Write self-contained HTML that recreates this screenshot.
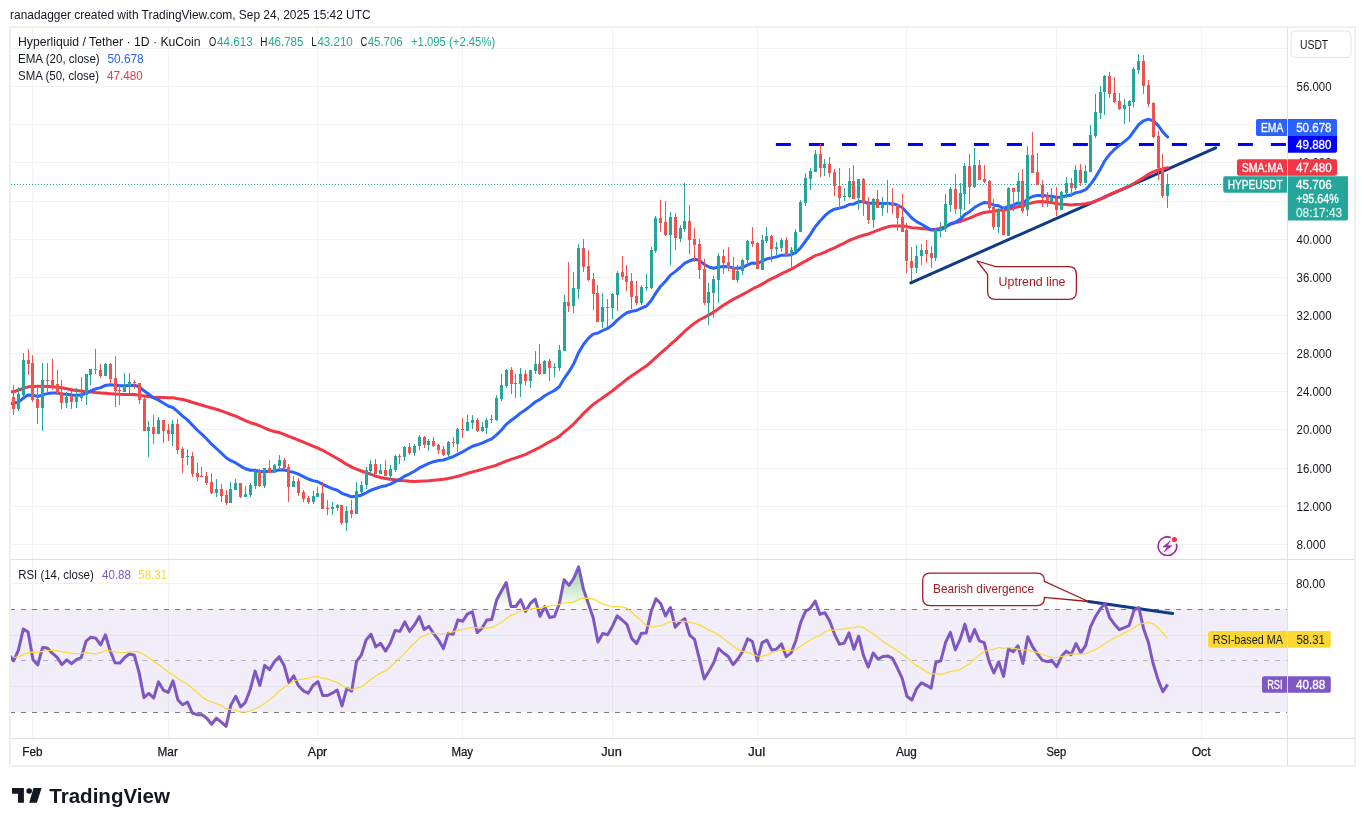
<!DOCTYPE html>
<html><head><meta charset="utf-8"><style>
svg text{}
html,body{margin:0;padding:0;background:#fff;width:1365px;height:826px;overflow:hidden;position:relative;font-family:"Liberation Sans", sans-serif;}
</style></head><body>
<svg width="1365" height="826" viewBox="0 0 1365 826" style="position:absolute;left:0;top:0;will-change:transform"><rect x="0" y="0" width="1365" height="826" fill="#fff"/><defs><clipPath id="cp1"><rect x="11" y="28" width="1276" height="531"/></clipPath><clipPath id="cp2"><rect x="11" y="560" width="1276" height="178"/></clipPath></defs><rect x="32" y="28" width="1" height="710" fill="#F1F3F2"/><rect x="168" y="28" width="1" height="710" fill="#F1F3F2"/><rect x="317" y="28" width="1" height="710" fill="#F1F3F2"/><rect x="462" y="28" width="1" height="710" fill="#F1F3F2"/><rect x="612" y="28" width="1" height="710" fill="#F1F3F2"/><rect x="757" y="28" width="1" height="710" fill="#F1F3F2"/><rect x="906" y="28" width="1" height="710" fill="#F1F3F2"/><rect x="1056" y="28" width="1" height="710" fill="#F1F3F2"/><rect x="1201" y="28" width="1" height="710" fill="#F1F3F2"/><rect x="11" y="48" width="1276" height="1" fill="#F1F3F2"/><rect x="11" y="86" width="1276" height="1" fill="#F1F3F2"/><rect x="11" y="124" width="1276" height="1" fill="#F1F3F2"/><rect x="11" y="162" width="1276" height="1" fill="#F1F3F2"/><rect x="11" y="201" width="1276" height="1" fill="#F1F3F2"/><rect x="11" y="239" width="1276" height="1" fill="#F1F3F2"/><rect x="11" y="277" width="1276" height="1" fill="#F1F3F2"/><rect x="11" y="315" width="1276" height="1" fill="#F1F3F2"/><rect x="11" y="353" width="1276" height="1" fill="#F1F3F2"/><rect x="11" y="391" width="1276" height="1" fill="#F1F3F2"/><rect x="11" y="429" width="1276" height="1" fill="#F1F3F2"/><rect x="11" y="468" width="1276" height="1" fill="#F1F3F2"/><rect x="11" y="506" width="1276" height="1" fill="#F1F3F2"/><rect x="11" y="544" width="1276" height="1" fill="#F1F3F2"/><rect x="11" y="583" width="1276" height="1" fill="#F1F3F2"/><rect x="11" y="635" width="1276" height="1" fill="#F1F3F2"/><rect x="11" y="686" width="1276" height="1" fill="#F1F3F2"/><rect x="11" y="609" width="1276" height="103" fill="#7E57C2" fill-opacity="0.1"/><line x1="10" x2="1287" y1="609.5" y2="609.5" stroke="#787B86" stroke-opacity="1" stroke-width="1" stroke-dasharray="5,6"/><line x1="10" x2="1287" y1="660.5" y2="660.5" stroke="#787B86" stroke-opacity="0.5" stroke-width="1" stroke-dasharray="5,6"/><line x1="10" x2="1287" y1="712.5" y2="712.5" stroke="#787B86" stroke-opacity="1" stroke-width="1" stroke-dasharray="5,6"/><line x1="775.9" x2="1287" y1="144.5" y2="144.5" stroke="#0000FF" stroke-width="3" stroke-dasharray="15,18"/><line x1="910.8" y1="282.9" x2="1215.7" y2="147.8" stroke="#0F3A85" stroke-width="3" stroke-linecap="round"/><path d="M10.0,391.8 L13.6,391.8 L18.5,390.0 L23.3,388.4 L28.1,386.8 L33.0,386.5 L37.8,386.3 L42.6,386.2 L47.4,386.5 L52.3,386.7 L57.1,387.2 L61.9,387.8 L66.8,388.7 L71.6,389.7 L76.4,390.4 L81.2,391.1 L86.1,391.7 L90.9,392.1 L95.7,392.6 L100.6,393.0 L105.4,393.3 L110.2,393.7 L115.0,394.0 L119.9,394.3 L124.7,394.4 L129.5,394.5 L134.4,394.6 L139.2,395.2 L144.0,395.9 L148.8,396.6 L153.7,397.4 L158.5,397.6 L163.3,397.6 L168.2,397.7 L173.0,397.8 L177.8,398.7 L182.6,399.5 L187.5,400.8 L192.3,402.3 L197.1,403.8 L202.0,405.3 L206.8,406.6 L211.6,408.0 L216.4,409.3 L221.3,410.9 L226.1,412.7 L230.9,414.5 L235.8,416.2 L240.6,418.4 L245.4,420.6 L250.3,422.7 L255.1,424.0 L259.9,425.8 L264.7,428.0 L269.6,430.1 L274.4,431.5 L279.2,432.5 L284.1,434.3 L288.9,436.4 L293.7,438.2 L298.5,440.2 L303.4,442.2 L308.2,444.2 L313.0,446.1 L317.9,448.1 L322.7,450.3 L327.5,453.0 L332.3,455.8 L337.2,458.5 L342.0,461.4 L346.8,464.4 L351.7,467.1 L356.5,469.1 L361.3,471.0 L366.1,472.7 L371.0,474.3 L375.8,476.1 L380.6,477.5 L385.5,478.4 L390.3,479.3 L395.1,479.7 L399.9,480.5 L404.8,480.8 L409.6,481.2 L414.4,481.6 L419.3,481.3 L424.1,481.1 L428.9,480.8 L433.7,480.2 L438.6,479.7 L443.4,479.2 L448.2,478.4 L453.1,477.4 L457.9,476.2 L462.7,474.9 L467.5,473.3 L472.4,471.9 L477.2,470.8 L482.0,469.4 L486.9,467.9 L491.7,466.6 L496.5,465.2 L501.3,463.2 L506.2,461.2 L511.0,459.4 L515.8,457.8 L520.7,456.1 L525.5,454.3 L530.3,452.0 L535.2,449.6 L540.0,447.3 L544.8,444.5 L549.6,441.8 L554.5,439.2 L559.3,436.4 L564.1,432.2 L569.0,428.2 L573.8,423.8 L578.6,418.7 L583.4,413.6 L588.3,408.9 L593.1,404.5 L597.9,401.1 L602.8,397.6 L607.6,394.3 L612.4,390.9 L617.2,386.9 L622.1,383.1 L626.9,379.2 L631.7,375.7 L636.6,372.6 L641.4,369.3 L646.2,366.1 L651.0,362.0 L655.9,357.4 L660.7,353.2 L665.5,349.0 L670.4,344.5 L675.2,340.3 L680.0,335.9 L684.8,331.2 L689.7,327.2 L694.5,323.2 L699.3,320.0 L704.2,317.5 L709.0,314.9 L713.8,312.1 L718.6,308.6 L723.5,305.3 L728.3,302.2 L733.1,299.4 L738.0,296.9 L742.8,294.4 L747.6,291.8 L752.4,289.0 L757.3,286.7 L762.1,284.1 L766.9,281.2 L771.8,278.7 L776.6,276.4 L781.4,273.7 L786.2,271.6 L791.1,269.2 L795.9,266.5 L800.7,263.6 L805.6,261.1 L810.4,258.4 L815.2,255.7 L820.0,254.1 L824.9,252.1 L829.7,249.9 L834.5,247.8 L839.4,245.3 L844.2,243.1 L849.0,240.5 L853.9,238.6 L858.7,236.7 L863.5,235.3 L868.3,234.0 L873.2,232.1 L878.0,230.2 L882.8,228.5 L887.7,226.8 L892.5,225.9 L897.3,225.9 L902.1,226.1 L907.0,226.6 L911.8,227.7 L916.6,228.0 L921.5,228.5 L926.3,229.1 L931.1,229.5 L935.9,229.2 L940.8,228.3 L945.6,226.4 L950.4,224.3 L955.3,222.9 L960.1,221.6 L964.9,219.7 L969.7,218.1 L974.6,215.8 L979.4,214.0 L984.2,212.4 L989.1,211.7 L993.9,211.4 L998.7,210.2 L1003.5,210.1 L1008.4,209.2 L1013.2,208.0 L1018.0,206.7 L1022.9,206.1 L1027.7,204.1 L1032.5,202.6 L1037.3,201.7 L1042.2,201.6 L1047.0,202.0 L1051.8,202.6 L1056.7,203.7 L1061.5,204.2 L1066.3,204.5 L1071.1,204.9 L1076.0,204.5 L1080.8,204.2 L1085.6,203.7 L1090.5,202.8 L1095.3,201.1 L1100.1,199.3 L1104.9,196.8 L1109.8,194.3 L1114.6,192.3 L1119.4,190.4 L1124.3,188.4 L1129.1,186.3 L1133.9,183.6 L1138.8,180.5 L1143.6,177.6 L1148.4,174.4 L1153.2,171.8 L1158.1,170.0 L1162.9,168.9 L1167.7,167.6" fill="none" stroke="#F23645" stroke-width="3" stroke-linejoin="round" stroke-linecap="round" clip-path="url(#cp1)"/><path d="M10.0,404.0 L13.6,403.0 L18.5,402.2 L23.3,398.1 L28.1,394.9 L33.0,395.3 L37.8,396.5 L42.6,394.9 L47.4,393.6 L52.3,393.1 L57.1,393.1 L61.9,394.0 L66.8,394.3 L71.6,395.0 L76.4,395.2 L81.2,395.1 L86.1,393.1 L90.9,390.9 L95.7,388.9 L100.6,387.6 L105.4,385.4 L110.2,384.7 L115.0,385.3 L119.9,385.8 L124.7,385.8 L129.5,385.5 L134.4,385.3 L139.2,386.7 L144.0,390.8 L148.8,394.3 L153.7,398.0 L158.5,400.1 L163.3,403.0 L168.2,406.0 L173.0,407.7 L177.8,411.7 L182.6,416.1 L187.5,419.9 L192.3,425.0 L197.1,430.0 L202.0,434.4 L206.8,439.0 L211.6,444.2 L216.4,448.5 L221.3,453.0 L226.1,457.7 L230.9,460.7 L235.8,462.9 L240.6,466.1 L245.4,468.8 L250.3,470.3 L255.1,470.3 L259.9,471.8 L264.7,471.5 L269.6,471.6 L274.4,471.0 L279.2,469.9 L284.1,469.8 L288.9,471.4 L293.7,472.3 L298.5,474.2 L303.4,476.6 L308.2,479.0 L313.0,480.6 L317.9,481.8 L322.7,484.4 L327.5,486.7 L332.3,488.6 L337.2,490.2 L342.0,493.3 L346.8,495.0 L351.7,496.8 L356.5,496.2 L361.3,495.2 L366.1,492.8 L371.0,490.1 L375.8,488.5 L380.6,486.8 L385.5,485.8 L390.3,484.2 L395.1,481.6 L399.9,479.2 L404.8,476.1 L409.6,473.8 L414.4,471.2 L419.3,467.9 L424.1,465.7 L428.9,463.3 L433.7,461.7 L438.6,460.5 L443.4,460.0 L448.2,458.3 L453.1,456.8 L457.9,454.1 L462.7,451.8 L467.5,449.0 L472.4,446.2 L477.2,444.8 L482.0,443.1 L486.9,440.9 L491.7,438.8 L496.5,434.9 L501.3,430.2 L506.2,424.4 L511.0,420.5 L515.8,417.0 L520.7,412.9 L525.5,409.8 L530.3,406.1 L535.2,402.0 L540.0,399.4 L544.8,395.7 L549.6,393.0 L554.5,390.5 L559.3,386.7 L564.1,378.6 L569.0,371.7 L573.8,363.7 L578.6,352.7 L583.4,344.5 L588.3,338.4 L593.1,334.1 L597.9,333.0 L602.8,330.5 L607.6,328.4 L612.4,325.1 L617.2,320.1 L622.1,316.1 L626.9,312.8 L631.7,311.3 L636.6,310.5 L641.4,308.2 L646.2,306.2 L651.0,300.8 L655.9,292.9 L660.7,286.2 L665.5,281.3 L670.4,275.1 L675.2,271.6 L680.0,267.5 L684.8,263.1 L689.7,260.8 L694.5,259.3 L699.3,260.3 L704.2,264.4 L709.0,267.0 L713.8,268.2 L718.6,267.0 L723.5,266.6 L728.3,266.7 L733.1,267.9 L738.0,268.2 L742.8,267.4 L747.6,264.9 L752.4,262.9 L757.3,263.5 L762.1,261.2 L766.9,258.8 L771.8,257.9 L776.6,256.8 L781.4,255.2 L786.2,255.2 L791.1,254.7 L795.9,252.5 L800.7,247.7 L805.6,241.0 L810.4,234.4 L815.2,226.7 L820.0,221.1 L824.9,215.7 L829.7,211.6 L834.5,209.2 L839.4,208.1 L844.2,206.9 L849.0,204.5 L853.9,203.9 L858.7,201.6 L863.5,201.7 L868.3,203.5 L873.2,203.0 L878.0,203.5 L882.8,203.5 L887.7,203.5 L892.5,203.7 L897.3,205.0 L902.1,207.5 L907.0,212.7 L911.8,218.0 L916.6,221.6 L921.5,224.3 L926.3,227.1 L931.1,230.0 L935.9,230.0 L940.8,229.7 L945.6,227.3 L950.4,223.6 L955.3,222.2 L960.1,219.4 L964.9,214.4 L969.7,211.7 L974.6,207.3 L979.4,204.7 L984.2,202.5 L989.1,203.0 L993.9,205.2 L998.7,205.7 L1003.5,208.5 L1008.4,206.5 L1013.2,205.2 L1018.0,202.9 L1022.9,203.6 L1027.7,199.0 L1032.5,196.5 L1037.3,195.4 L1042.2,195.6 L1047.0,196.1 L1051.8,196.3 L1056.7,197.5 L1061.5,197.1 L1066.3,195.7 L1071.1,195.0 L1076.0,192.6 L1080.8,191.7 L1085.6,189.7 L1090.5,184.5 L1095.3,177.6 L1100.1,169.5 L1104.9,160.6 L1109.8,154.2 L1114.6,149.3 L1119.4,145.4 L1124.3,141.6 L1129.1,137.7 L1133.9,131.1 L1138.8,124.5 L1143.6,120.8 L1148.4,119.2 L1153.2,120.8 L1158.1,125.3 L1162.9,132.1 L1167.7,137.0" fill="none" stroke="#2962FF" stroke-width="3" stroke-linejoin="round" stroke-linecap="round" clip-path="url(#cp1)"/><rect x="13" y="385" width="1" height="30" fill="#EF5350"/><rect x="12" y="397" width="3" height="12" fill="#EF5350"/><rect x="18" y="387" width="1" height="24" fill="#26A69A"/><rect x="17" y="394" width="3" height="15" fill="#26A69A"/><rect x="23" y="353" width="1" height="44" fill="#26A69A"/><rect x="22" y="360" width="3" height="35" fill="#26A69A"/><rect x="28" y="349" width="1" height="26" fill="#EF5350"/><rect x="27" y="360" width="3" height="4" fill="#EF5350"/><rect x="32" y="355" width="1" height="47" fill="#EF5350"/><rect x="31" y="363" width="3" height="37" fill="#EF5350"/><rect x="37" y="388" width="1" height="36" fill="#EF5350"/><rect x="36" y="399" width="3" height="9" fill="#EF5350"/><rect x="42" y="363" width="1" height="68" fill="#26A69A"/><rect x="41" y="380" width="3" height="28" fill="#26A69A"/><rect x="47" y="363" width="1" height="30" fill="#EF5350"/><rect x="46" y="380" width="3" height="1" fill="#EF5350"/><rect x="52" y="359" width="1" height="31" fill="#EF5350"/><rect x="51" y="380" width="3" height="8" fill="#EF5350"/><rect x="57" y="370" width="1" height="25" fill="#EF5350"/><rect x="56" y="384" width="3" height="9" fill="#EF5350"/><rect x="61" y="380" width="1" height="29" fill="#EF5350"/><rect x="60" y="392" width="3" height="11" fill="#EF5350"/><rect x="66" y="392" width="1" height="16" fill="#26A69A"/><rect x="65" y="397" width="3" height="6" fill="#26A69A"/><rect x="71" y="391" width="1" height="18" fill="#EF5350"/><rect x="70" y="396" width="3" height="6" fill="#EF5350"/><rect x="76" y="388" width="1" height="20" fill="#26A69A"/><rect x="75" y="397" width="3" height="5" fill="#26A69A"/><rect x="81" y="377" width="1" height="24" fill="#26A69A"/><rect x="80" y="395" width="3" height="3" fill="#26A69A"/><rect x="86" y="374" width="1" height="31" fill="#26A69A"/><rect x="85" y="374" width="3" height="21" fill="#26A69A"/><rect x="90" y="369" width="1" height="16" fill="#26A69A"/><rect x="89" y="369" width="3" height="6" fill="#26A69A"/><rect x="95" y="349" width="1" height="25" fill="#EF5350"/><rect x="94" y="369" width="3" height="1" fill="#EF5350"/><rect x="100" y="364" width="1" height="14" fill="#EF5350"/><rect x="99" y="370" width="3" height="6" fill="#EF5350"/><rect x="105" y="363" width="1" height="13" fill="#26A69A"/><rect x="104" y="364" width="3" height="12" fill="#26A69A"/><rect x="110" y="363" width="1" height="20" fill="#EF5350"/><rect x="109" y="364" width="3" height="15" fill="#EF5350"/><rect x="115" y="356" width="1" height="51" fill="#EF5350"/><rect x="114" y="378" width="3" height="13" fill="#EF5350"/><rect x="119" y="386" width="1" height="19" fill="#EF5350"/><rect x="118" y="390" width="3" height="1" fill="#EF5350"/><rect x="124" y="373" width="1" height="19" fill="#26A69A"/><rect x="123" y="386" width="3" height="6" fill="#26A69A"/><rect x="129" y="373" width="1" height="21" fill="#26A69A"/><rect x="128" y="382" width="3" height="4" fill="#26A69A"/><rect x="134" y="380" width="1" height="9" fill="#EF5350"/><rect x="133" y="382" width="3" height="1" fill="#EF5350"/><rect x="139" y="383" width="1" height="21" fill="#EF5350"/><rect x="138" y="383" width="3" height="17" fill="#EF5350"/><rect x="144" y="397" width="1" height="34" fill="#EF5350"/><rect x="143" y="399" width="3" height="32" fill="#EF5350"/><rect x="148" y="421" width="1" height="36" fill="#26A69A"/><rect x="147" y="427" width="3" height="4" fill="#26A69A"/><rect x="153" y="415" width="1" height="29" fill="#EF5350"/><rect x="152" y="427" width="3" height="7" fill="#EF5350"/><rect x="158" y="417" width="1" height="17" fill="#26A69A"/><rect x="157" y="420" width="3" height="14" fill="#26A69A"/><rect x="163" y="420" width="1" height="23" fill="#EF5350"/><rect x="162" y="420" width="3" height="11" fill="#EF5350"/><rect x="168" y="424" width="1" height="17" fill="#EF5350"/><rect x="167" y="430" width="3" height="4" fill="#EF5350"/><rect x="172" y="420" width="1" height="26" fill="#26A69A"/><rect x="171" y="424" width="3" height="10" fill="#26A69A"/><rect x="177" y="419" width="1" height="35" fill="#EF5350"/><rect x="176" y="424" width="3" height="26" fill="#EF5350"/><rect x="182" y="447" width="1" height="26" fill="#EF5350"/><rect x="181" y="449" width="3" height="9" fill="#EF5350"/><rect x="187" y="449" width="1" height="16" fill="#26A69A"/><rect x="186" y="456" width="3" height="1" fill="#26A69A"/><rect x="192" y="452" width="1" height="25" fill="#EF5350"/><rect x="191" y="456" width="3" height="18" fill="#EF5350"/><rect x="197" y="463" width="1" height="18" fill="#EF5350"/><rect x="196" y="473" width="3" height="4" fill="#EF5350"/><rect x="201" y="467" width="1" height="10" fill="#EF5350"/><rect x="200" y="476" width="3" height="1" fill="#EF5350"/><rect x="206" y="472" width="1" height="13" fill="#EF5350"/><rect x="205" y="476" width="3" height="7" fill="#EF5350"/><rect x="211" y="473" width="1" height="21" fill="#EF5350"/><rect x="210" y="482" width="3" height="11" fill="#EF5350"/><rect x="216" y="479" width="1" height="18" fill="#26A69A"/><rect x="215" y="489" width="3" height="4" fill="#26A69A"/><rect x="221" y="484" width="1" height="18" fill="#EF5350"/><rect x="220" y="489" width="3" height="7" fill="#EF5350"/><rect x="226" y="490" width="1" height="15" fill="#EF5350"/><rect x="225" y="495" width="3" height="8" fill="#EF5350"/><rect x="230" y="482" width="1" height="21" fill="#26A69A"/><rect x="229" y="489" width="3" height="14" fill="#26A69A"/><rect x="235" y="479" width="1" height="11" fill="#26A69A"/><rect x="234" y="483" width="3" height="7" fill="#26A69A"/><rect x="240" y="483" width="1" height="15" fill="#EF5350"/><rect x="239" y="483" width="3" height="14" fill="#EF5350"/><rect x="245" y="486" width="1" height="11" fill="#26A69A"/><rect x="244" y="494" width="3" height="3" fill="#26A69A"/><rect x="250" y="483" width="1" height="14" fill="#26A69A"/><rect x="249" y="485" width="3" height="10" fill="#26A69A"/><rect x="255" y="470" width="1" height="19" fill="#26A69A"/><rect x="254" y="471" width="3" height="15" fill="#26A69A"/><rect x="259" y="469" width="1" height="18" fill="#EF5350"/><rect x="258" y="471" width="3" height="15" fill="#EF5350"/><rect x="264" y="468" width="1" height="20" fill="#26A69A"/><rect x="263" y="468" width="3" height="18" fill="#26A69A"/><rect x="269" y="460" width="1" height="13" fill="#EF5350"/><rect x="268" y="468" width="3" height="5" fill="#EF5350"/><rect x="274" y="464" width="1" height="9" fill="#26A69A"/><rect x="273" y="465" width="3" height="8" fill="#26A69A"/><rect x="279" y="455" width="1" height="15" fill="#26A69A"/><rect x="278" y="460" width="3" height="6" fill="#26A69A"/><rect x="284" y="458" width="1" height="11" fill="#EF5350"/><rect x="283" y="460" width="3" height="8" fill="#EF5350"/><rect x="288" y="464" width="1" height="38" fill="#EF5350"/><rect x="287" y="467" width="3" height="20" fill="#EF5350"/><rect x="293" y="476" width="1" height="11" fill="#26A69A"/><rect x="292" y="481" width="3" height="6" fill="#26A69A"/><rect x="298" y="478" width="1" height="18" fill="#EF5350"/><rect x="297" y="481" width="3" height="12" fill="#EF5350"/><rect x="303" y="490" width="1" height="12" fill="#EF5350"/><rect x="302" y="492" width="3" height="7" fill="#EF5350"/><rect x="308" y="496" width="1" height="8" fill="#EF5350"/><rect x="307" y="498" width="3" height="4" fill="#EF5350"/><rect x="313" y="491" width="1" height="13" fill="#26A69A"/><rect x="312" y="496" width="3" height="6" fill="#26A69A"/><rect x="317" y="487" width="1" height="10" fill="#26A69A"/><rect x="316" y="493" width="3" height="4" fill="#26A69A"/><rect x="322" y="482" width="1" height="27" fill="#EF5350"/><rect x="321" y="493" width="3" height="16" fill="#EF5350"/><rect x="327" y="500" width="1" height="15" fill="#EF5350"/><rect x="326" y="508" width="3" height="1" fill="#EF5350"/><rect x="332" y="502" width="1" height="13" fill="#26A69A"/><rect x="331" y="507" width="3" height="2" fill="#26A69A"/><rect x="337" y="504" width="1" height="7" fill="#26A69A"/><rect x="336" y="505" width="3" height="3" fill="#26A69A"/><rect x="341" y="505" width="1" height="20" fill="#EF5350"/><rect x="340" y="505" width="3" height="18" fill="#EF5350"/><rect x="346" y="506" width="1" height="25" fill="#26A69A"/><rect x="345" y="511" width="3" height="12" fill="#26A69A"/><rect x="351" y="500" width="1" height="18" fill="#EF5350"/><rect x="350" y="510" width="3" height="4" fill="#EF5350"/><rect x="356" y="482" width="1" height="32" fill="#26A69A"/><rect x="355" y="491" width="3" height="23" fill="#26A69A"/><rect x="361" y="481" width="1" height="13" fill="#26A69A"/><rect x="360" y="485" width="3" height="7" fill="#26A69A"/><rect x="366" y="467" width="1" height="22" fill="#26A69A"/><rect x="365" y="470" width="3" height="15" fill="#26A69A"/><rect x="370" y="460" width="1" height="16" fill="#26A69A"/><rect x="369" y="464" width="3" height="7" fill="#26A69A"/><rect x="375" y="459" width="1" height="15" fill="#EF5350"/><rect x="374" y="464" width="3" height="10" fill="#EF5350"/><rect x="380" y="464" width="1" height="10" fill="#26A69A"/><rect x="379" y="470" width="3" height="4" fill="#26A69A"/><rect x="385" y="460" width="1" height="16" fill="#EF5350"/><rect x="384" y="470" width="3" height="6" fill="#EF5350"/><rect x="390" y="465" width="1" height="15" fill="#26A69A"/><rect x="389" y="469" width="3" height="7" fill="#26A69A"/><rect x="395" y="455" width="1" height="17" fill="#26A69A"/><rect x="394" y="456" width="3" height="14" fill="#26A69A"/><rect x="399" y="454" width="1" height="10" fill="#EF5350"/><rect x="398" y="456" width="3" height="1" fill="#EF5350"/><rect x="404" y="446" width="1" height="15" fill="#26A69A"/><rect x="403" y="447" width="3" height="10" fill="#26A69A"/><rect x="409" y="443" width="1" height="12" fill="#EF5350"/><rect x="408" y="447" width="3" height="6" fill="#EF5350"/><rect x="414" y="444" width="1" height="12" fill="#26A69A"/><rect x="413" y="446" width="3" height="7" fill="#26A69A"/><rect x="419" y="435" width="1" height="15" fill="#26A69A"/><rect x="418" y="437" width="3" height="9" fill="#26A69A"/><rect x="424" y="436" width="1" height="12" fill="#EF5350"/><rect x="423" y="437" width="3" height="8" fill="#EF5350"/><rect x="428" y="439" width="1" height="12" fill="#26A69A"/><rect x="427" y="441" width="3" height="4" fill="#26A69A"/><rect x="433" y="437" width="1" height="10" fill="#EF5350"/><rect x="432" y="441" width="3" height="5" fill="#EF5350"/><rect x="438" y="444" width="1" height="10" fill="#EF5350"/><rect x="437" y="445" width="3" height="5" fill="#EF5350"/><rect x="443" y="446" width="1" height="10" fill="#EF5350"/><rect x="442" y="449" width="3" height="6" fill="#EF5350"/><rect x="448" y="441" width="1" height="18" fill="#26A69A"/><rect x="447" y="442" width="3" height="13" fill="#26A69A"/><rect x="453" y="437" width="1" height="10" fill="#EF5350"/><rect x="452" y="442" width="3" height="1" fill="#EF5350"/><rect x="457" y="428" width="1" height="24" fill="#26A69A"/><rect x="456" y="429" width="3" height="15" fill="#26A69A"/><rect x="462" y="418" width="1" height="20" fill="#EF5350"/><rect x="461" y="429" width="3" height="1" fill="#EF5350"/><rect x="467" y="415" width="1" height="16" fill="#26A69A"/><rect x="466" y="422" width="3" height="9" fill="#26A69A"/><rect x="472" y="415" width="1" height="14" fill="#26A69A"/><rect x="471" y="420" width="3" height="3" fill="#26A69A"/><rect x="477" y="418" width="1" height="14" fill="#EF5350"/><rect x="476" y="420" width="3" height="11" fill="#EF5350"/><rect x="482" y="422" width="1" height="10" fill="#26A69A"/><rect x="481" y="427" width="3" height="4" fill="#26A69A"/><rect x="486" y="418" width="1" height="16" fill="#26A69A"/><rect x="485" y="420" width="3" height="8" fill="#26A69A"/><rect x="491" y="415" width="1" height="8" fill="#26A69A"/><rect x="490" y="419" width="3" height="1" fill="#26A69A"/><rect x="496" y="395" width="1" height="26" fill="#26A69A"/><rect x="495" y="398" width="3" height="22" fill="#26A69A"/><rect x="501" y="374" width="1" height="27" fill="#26A69A"/><rect x="500" y="385" width="3" height="14" fill="#26A69A"/><rect x="506" y="369" width="1" height="19" fill="#26A69A"/><rect x="505" y="370" width="3" height="16" fill="#26A69A"/><rect x="511" y="367" width="1" height="27" fill="#EF5350"/><rect x="510" y="370" width="3" height="14" fill="#EF5350"/><rect x="515" y="374" width="1" height="24" fill="#EF5350"/><rect x="514" y="383" width="3" height="1" fill="#EF5350"/><rect x="520" y="368" width="1" height="29" fill="#26A69A"/><rect x="519" y="374" width="3" height="10" fill="#26A69A"/><rect x="525" y="370" width="1" height="15" fill="#EF5350"/><rect x="524" y="374" width="3" height="7" fill="#EF5350"/><rect x="530" y="370" width="1" height="18" fill="#26A69A"/><rect x="529" y="370" width="3" height="11" fill="#26A69A"/><rect x="535" y="351" width="1" height="23" fill="#26A69A"/><rect x="534" y="364" width="3" height="7" fill="#26A69A"/><rect x="539" y="344" width="1" height="31" fill="#EF5350"/><rect x="538" y="364" width="3" height="10" fill="#EF5350"/><rect x="544" y="360" width="1" height="14" fill="#26A69A"/><rect x="543" y="361" width="3" height="13" fill="#26A69A"/><rect x="549" y="359" width="1" height="22" fill="#EF5350"/><rect x="548" y="361" width="3" height="7" fill="#EF5350"/><rect x="554" y="363" width="1" height="14" fill="#26A69A"/><rect x="553" y="367" width="3" height="1" fill="#26A69A"/><rect x="559" y="345" width="1" height="26" fill="#26A69A"/><rect x="558" y="350" width="3" height="18" fill="#26A69A"/><rect x="564" y="295" width="1" height="56" fill="#26A69A"/><rect x="563" y="302" width="3" height="49" fill="#26A69A"/><rect x="568" y="262" width="1" height="50" fill="#EF5350"/><rect x="567" y="302" width="3" height="4" fill="#EF5350"/><rect x="573" y="272" width="1" height="41" fill="#26A69A"/><rect x="572" y="288" width="3" height="18" fill="#26A69A"/><rect x="578" y="244" width="1" height="55" fill="#26A69A"/><rect x="577" y="248" width="3" height="41" fill="#26A69A"/><rect x="583" y="239" width="1" height="33" fill="#EF5350"/><rect x="582" y="248" width="3" height="19" fill="#EF5350"/><rect x="588" y="250" width="1" height="31" fill="#EF5350"/><rect x="587" y="266" width="3" height="14" fill="#EF5350"/><rect x="593" y="273" width="1" height="37" fill="#EF5350"/><rect x="592" y="279" width="3" height="15" fill="#EF5350"/><rect x="597" y="285" width="1" height="37" fill="#EF5350"/><rect x="596" y="293" width="3" height="29" fill="#EF5350"/><rect x="602" y="293" width="1" height="35" fill="#26A69A"/><rect x="601" y="307" width="3" height="15" fill="#26A69A"/><rect x="607" y="299" width="1" height="28" fill="#EF5350"/><rect x="606" y="307" width="3" height="1" fill="#EF5350"/><rect x="612" y="293" width="1" height="26" fill="#26A69A"/><rect x="611" y="294" width="3" height="14" fill="#26A69A"/><rect x="617" y="271" width="1" height="40" fill="#26A69A"/><rect x="616" y="273" width="3" height="22" fill="#26A69A"/><rect x="622" y="256" width="1" height="24" fill="#EF5350"/><rect x="621" y="272" width="3" height="5" fill="#EF5350"/><rect x="626" y="265" width="1" height="26" fill="#EF5350"/><rect x="625" y="276" width="3" height="6" fill="#EF5350"/><rect x="631" y="273" width="1" height="36" fill="#EF5350"/><rect x="630" y="281" width="3" height="16" fill="#EF5350"/><rect x="636" y="281" width="1" height="24" fill="#EF5350"/><rect x="635" y="296" width="3" height="7" fill="#EF5350"/><rect x="641" y="285" width="1" height="20" fill="#26A69A"/><rect x="640" y="287" width="3" height="16" fill="#26A69A"/><rect x="646" y="274" width="1" height="17" fill="#26A69A"/><rect x="645" y="287" width="3" height="1" fill="#26A69A"/><rect x="651" y="247" width="1" height="42" fill="#26A69A"/><rect x="650" y="250" width="3" height="38" fill="#26A69A"/><rect x="655" y="216" width="1" height="37" fill="#26A69A"/><rect x="654" y="218" width="3" height="33" fill="#26A69A"/><rect x="660" y="200" width="1" height="32" fill="#EF5350"/><rect x="659" y="218" width="3" height="5" fill="#EF5350"/><rect x="665" y="201" width="1" height="35" fill="#EF5350"/><rect x="664" y="222" width="3" height="13" fill="#EF5350"/><rect x="670" y="212" width="1" height="53" fill="#26A69A"/><rect x="669" y="217" width="3" height="18" fill="#26A69A"/><rect x="675" y="213" width="1" height="37" fill="#EF5350"/><rect x="674" y="217" width="3" height="21" fill="#EF5350"/><rect x="680" y="225" width="1" height="17" fill="#26A69A"/><rect x="679" y="228" width="3" height="11" fill="#26A69A"/><rect x="684" y="183" width="1" height="49" fill="#26A69A"/><rect x="683" y="221" width="3" height="8" fill="#26A69A"/><rect x="689" y="205" width="1" height="49" fill="#EF5350"/><rect x="688" y="221" width="3" height="19" fill="#EF5350"/><rect x="694" y="228" width="1" height="34" fill="#EF5350"/><rect x="693" y="239" width="3" height="6" fill="#EF5350"/><rect x="699" y="239" width="1" height="40" fill="#EF5350"/><rect x="698" y="244" width="3" height="26" fill="#EF5350"/><rect x="704" y="259" width="1" height="46" fill="#EF5350"/><rect x="703" y="269" width="3" height="34" fill="#EF5350"/><rect x="708" y="283" width="1" height="42" fill="#26A69A"/><rect x="707" y="292" width="3" height="11" fill="#26A69A"/><rect x="713" y="276" width="1" height="42" fill="#26A69A"/><rect x="712" y="279" width="3" height="14" fill="#26A69A"/><rect x="718" y="253" width="1" height="50" fill="#26A69A"/><rect x="717" y="256" width="3" height="24" fill="#26A69A"/><rect x="723" y="249" width="1" height="25" fill="#EF5350"/><rect x="722" y="256" width="3" height="7" fill="#EF5350"/><rect x="728" y="247" width="1" height="24" fill="#EF5350"/><rect x="727" y="262" width="3" height="6" fill="#EF5350"/><rect x="733" y="257" width="1" height="23" fill="#EF5350"/><rect x="732" y="267" width="3" height="13" fill="#EF5350"/><rect x="737" y="265" width="1" height="18" fill="#26A69A"/><rect x="736" y="271" width="3" height="9" fill="#26A69A"/><rect x="742" y="259" width="1" height="16" fill="#26A69A"/><rect x="741" y="260" width="3" height="11" fill="#26A69A"/><rect x="747" y="240" width="1" height="23" fill="#26A69A"/><rect x="746" y="241" width="3" height="19" fill="#26A69A"/><rect x="752" y="227" width="1" height="20" fill="#EF5350"/><rect x="751" y="241" width="3" height="3" fill="#EF5350"/><rect x="757" y="242" width="1" height="27" fill="#EF5350"/><rect x="756" y="243" width="3" height="26" fill="#EF5350"/><rect x="762" y="235" width="1" height="35" fill="#26A69A"/><rect x="761" y="240" width="3" height="30" fill="#26A69A"/><rect x="766" y="227" width="1" height="16" fill="#26A69A"/><rect x="765" y="236" width="3" height="5" fill="#26A69A"/><rect x="771" y="235" width="1" height="27" fill="#EF5350"/><rect x="770" y="236" width="3" height="13" fill="#EF5350"/><rect x="776" y="242" width="1" height="13" fill="#26A69A"/><rect x="775" y="247" width="3" height="2" fill="#26A69A"/><rect x="781" y="238" width="1" height="14" fill="#26A69A"/><rect x="780" y="240" width="3" height="8" fill="#26A69A"/><rect x="786" y="237" width="1" height="19" fill="#EF5350"/><rect x="785" y="240" width="3" height="15" fill="#EF5350"/><rect x="791" y="247" width="1" height="21" fill="#26A69A"/><rect x="790" y="250" width="3" height="3" fill="#26A69A"/><rect x="795" y="229" width="1" height="22" fill="#26A69A"/><rect x="794" y="232" width="3" height="19" fill="#26A69A"/><rect x="800" y="200" width="1" height="32" fill="#26A69A"/><rect x="799" y="202" width="3" height="30" fill="#26A69A"/><rect x="805" y="173" width="1" height="33" fill="#26A69A"/><rect x="804" y="178" width="3" height="25" fill="#26A69A"/><rect x="810" y="168" width="1" height="22" fill="#26A69A"/><rect x="809" y="171" width="3" height="8" fill="#26A69A"/><rect x="815" y="150" width="1" height="22" fill="#26A69A"/><rect x="814" y="154" width="3" height="18" fill="#26A69A"/><rect x="820" y="144" width="1" height="33" fill="#EF5350"/><rect x="819" y="154" width="3" height="14" fill="#EF5350"/><rect x="824" y="159" width="1" height="17" fill="#26A69A"/><rect x="823" y="164" width="3" height="4" fill="#26A69A"/><rect x="829" y="157" width="1" height="20" fill="#EF5350"/><rect x="828" y="164" width="3" height="9" fill="#EF5350"/><rect x="834" y="169" width="1" height="27" fill="#EF5350"/><rect x="833" y="172" width="3" height="14" fill="#EF5350"/><rect x="839" y="168" width="1" height="42" fill="#EF5350"/><rect x="838" y="186" width="3" height="12" fill="#EF5350"/><rect x="844" y="188" width="1" height="13" fill="#26A69A"/><rect x="843" y="196" width="3" height="1" fill="#26A69A"/><rect x="849" y="168" width="1" height="30" fill="#26A69A"/><rect x="848" y="181" width="3" height="16" fill="#26A69A"/><rect x="853" y="165" width="1" height="34" fill="#EF5350"/><rect x="852" y="181" width="3" height="18" fill="#EF5350"/><rect x="858" y="179" width="1" height="31" fill="#26A69A"/><rect x="857" y="179" width="3" height="19" fill="#26A69A"/><rect x="863" y="178" width="1" height="38" fill="#EF5350"/><rect x="862" y="179" width="3" height="24" fill="#EF5350"/><rect x="868" y="197" width="1" height="27" fill="#EF5350"/><rect x="867" y="203" width="3" height="17" fill="#EF5350"/><rect x="873" y="198" width="1" height="30" fill="#26A69A"/><rect x="872" y="199" width="3" height="21" fill="#26A69A"/><rect x="877" y="190" width="1" height="18" fill="#EF5350"/><rect x="876" y="199" width="3" height="9" fill="#EF5350"/><rect x="882" y="197" width="1" height="19" fill="#26A69A"/><rect x="881" y="204" width="3" height="4" fill="#26A69A"/><rect x="887" y="180" width="1" height="33" fill="#26A69A"/><rect x="886" y="203" width="3" height="2" fill="#26A69A"/><rect x="892" y="188" width="1" height="26" fill="#EF5350"/><rect x="891" y="203" width="3" height="3" fill="#EF5350"/><rect x="897" y="204" width="1" height="27" fill="#EF5350"/><rect x="896" y="205" width="3" height="13" fill="#EF5350"/><rect x="902" y="194" width="1" height="38" fill="#EF5350"/><rect x="901" y="217" width="3" height="15" fill="#EF5350"/><rect x="906" y="223" width="1" height="50" fill="#EF5350"/><rect x="905" y="230" width="3" height="31" fill="#EF5350"/><rect x="911" y="247" width="1" height="34" fill="#EF5350"/><rect x="910" y="261" width="3" height="7" fill="#EF5350"/><rect x="916" y="245" width="1" height="28" fill="#26A69A"/><rect x="915" y="256" width="3" height="12" fill="#26A69A"/><rect x="921" y="244" width="1" height="21" fill="#26A69A"/><rect x="920" y="250" width="3" height="6" fill="#26A69A"/><rect x="926" y="240" width="1" height="23" fill="#EF5350"/><rect x="925" y="250" width="3" height="4" fill="#EF5350"/><rect x="931" y="246" width="1" height="22" fill="#EF5350"/><rect x="930" y="253" width="3" height="5" fill="#EF5350"/><rect x="935" y="229" width="1" height="32" fill="#26A69A"/><rect x="934" y="230" width="3" height="28" fill="#26A69A"/><rect x="940" y="222" width="1" height="15" fill="#26A69A"/><rect x="939" y="228" width="3" height="2" fill="#26A69A"/><rect x="945" y="194" width="1" height="38" fill="#26A69A"/><rect x="944" y="204" width="3" height="25" fill="#26A69A"/><rect x="950" y="187" width="1" height="25" fill="#26A69A"/><rect x="949" y="189" width="3" height="16" fill="#26A69A"/><rect x="955" y="174" width="1" height="40" fill="#EF5350"/><rect x="954" y="189" width="3" height="20" fill="#EF5350"/><rect x="960" y="183" width="1" height="35" fill="#26A69A"/><rect x="959" y="193" width="3" height="16" fill="#26A69A"/><rect x="964" y="163" width="1" height="47" fill="#26A69A"/><rect x="963" y="166" width="3" height="28" fill="#26A69A"/><rect x="969" y="154" width="1" height="50" fill="#EF5350"/><rect x="968" y="166" width="3" height="21" fill="#EF5350"/><rect x="974" y="148" width="1" height="40" fill="#26A69A"/><rect x="973" y="165" width="3" height="22" fill="#26A69A"/><rect x="979" y="160" width="1" height="20" fill="#EF5350"/><rect x="978" y="165" width="3" height="15" fill="#EF5350"/><rect x="984" y="165" width="1" height="18" fill="#EF5350"/><rect x="983" y="179" width="3" height="3" fill="#EF5350"/><rect x="989" y="180" width="1" height="30" fill="#EF5350"/><rect x="988" y="181" width="3" height="27" fill="#EF5350"/><rect x="993" y="199" width="1" height="31" fill="#EF5350"/><rect x="992" y="207" width="3" height="20" fill="#EF5350"/><rect x="998" y="208" width="1" height="25" fill="#26A69A"/><rect x="997" y="210" width="3" height="17" fill="#26A69A"/><rect x="1003" y="206" width="1" height="29" fill="#EF5350"/><rect x="1002" y="209" width="3" height="26" fill="#EF5350"/><rect x="1008" y="187" width="1" height="49" fill="#26A69A"/><rect x="1007" y="188" width="3" height="48" fill="#26A69A"/><rect x="1013" y="188" width="1" height="23" fill="#EF5350"/><rect x="1012" y="188" width="3" height="4" fill="#EF5350"/><rect x="1018" y="173" width="1" height="33" fill="#26A69A"/><rect x="1017" y="181" width="3" height="11" fill="#26A69A"/><rect x="1022" y="169" width="1" height="44" fill="#EF5350"/><rect x="1021" y="181" width="3" height="30" fill="#EF5350"/><rect x="1027" y="146" width="1" height="70" fill="#26A69A"/><rect x="1026" y="155" width="3" height="55" fill="#26A69A"/><rect x="1032" y="132" width="1" height="41" fill="#EF5350"/><rect x="1031" y="155" width="3" height="18" fill="#EF5350"/><rect x="1037" y="153" width="1" height="32" fill="#EF5350"/><rect x="1036" y="172" width="3" height="13" fill="#EF5350"/><rect x="1042" y="180" width="1" height="27" fill="#EF5350"/><rect x="1041" y="185" width="3" height="13" fill="#EF5350"/><rect x="1047" y="192" width="1" height="15" fill="#EF5350"/><rect x="1046" y="196" width="3" height="5" fill="#EF5350"/><rect x="1051" y="188" width="1" height="13" fill="#26A69A"/><rect x="1050" y="198" width="3" height="3" fill="#26A69A"/><rect x="1056" y="187" width="1" height="29" fill="#EF5350"/><rect x="1055" y="199" width="3" height="11" fill="#EF5350"/><rect x="1061" y="191" width="1" height="19" fill="#26A69A"/><rect x="1060" y="192" width="3" height="18" fill="#26A69A"/><rect x="1066" y="177" width="1" height="21" fill="#26A69A"/><rect x="1065" y="183" width="3" height="10" fill="#26A69A"/><rect x="1071" y="178" width="1" height="19" fill="#EF5350"/><rect x="1070" y="183" width="3" height="5" fill="#EF5350"/><rect x="1075" y="165" width="1" height="25" fill="#26A69A"/><rect x="1074" y="170" width="3" height="18" fill="#26A69A"/><rect x="1080" y="164" width="1" height="22" fill="#EF5350"/><rect x="1079" y="170" width="3" height="13" fill="#EF5350"/><rect x="1085" y="165" width="1" height="18" fill="#26A69A"/><rect x="1084" y="171" width="3" height="12" fill="#26A69A"/><rect x="1090" y="125" width="1" height="47" fill="#26A69A"/><rect x="1089" y="135" width="3" height="37" fill="#26A69A"/><rect x="1095" y="94" width="1" height="44" fill="#26A69A"/><rect x="1094" y="112" width="3" height="24" fill="#26A69A"/><rect x="1100" y="86" width="1" height="33" fill="#26A69A"/><rect x="1099" y="92" width="3" height="21" fill="#26A69A"/><rect x="1104" y="75" width="1" height="40" fill="#26A69A"/><rect x="1103" y="76" width="3" height="16" fill="#26A69A"/><rect x="1109" y="72" width="1" height="26" fill="#EF5350"/><rect x="1108" y="76" width="3" height="18" fill="#EF5350"/><rect x="1114" y="77" width="1" height="26" fill="#EF5350"/><rect x="1113" y="93" width="3" height="9" fill="#EF5350"/><rect x="1119" y="93" width="1" height="17" fill="#EF5350"/><rect x="1118" y="101" width="3" height="8" fill="#EF5350"/><rect x="1124" y="99" width="1" height="25" fill="#26A69A"/><rect x="1123" y="105" width="3" height="4" fill="#26A69A"/><rect x="1129" y="100" width="1" height="22" fill="#26A69A"/><rect x="1128" y="101" width="3" height="5" fill="#26A69A"/><rect x="1133" y="67" width="1" height="40" fill="#26A69A"/><rect x="1132" y="69" width="3" height="33" fill="#26A69A"/><rect x="1138" y="54" width="1" height="20" fill="#26A69A"/><rect x="1137" y="61" width="3" height="9" fill="#26A69A"/><rect x="1143" y="55" width="1" height="39" fill="#EF5350"/><rect x="1142" y="61" width="3" height="25" fill="#EF5350"/><rect x="1148" y="80" width="1" height="27" fill="#EF5350"/><rect x="1147" y="85" width="3" height="19" fill="#EF5350"/><rect x="1153" y="102" width="1" height="36" fill="#EF5350"/><rect x="1152" y="103" width="3" height="34" fill="#EF5350"/><rect x="1158" y="131" width="1" height="49" fill="#EF5350"/><rect x="1157" y="136" width="3" height="32" fill="#EF5350"/><rect x="1162" y="154" width="1" height="44" fill="#EF5350"/><rect x="1161" y="168" width="3" height="28" fill="#EF5350"/><rect x="1167" y="174" width="1" height="34" fill="#26A69A"/><rect x="1166" y="184" width="3" height="12" fill="#26A69A"/><line x1="11" x2="1287" y1="184.5" y2="184.5" stroke="#26A69A" stroke-width="1" stroke-dasharray="1,2"/><line x1="1088.5" y1="601.5" x2="1172.6" y2="613.6" stroke="#0F3A85" stroke-width="3" stroke-linecap="round"/><defs><linearGradient id="gob" gradientUnits="userSpaceOnUse" x1="0" y1="531.9" x2="0" y2="609.3"><stop offset="0" stop-color="#4CAF50" stop-opacity="1"/><stop offset="1" stop-color="#4CAF50" stop-opacity="0"/></linearGradient><linearGradient id="gos" gradientUnits="userSpaceOnUse" x1="0" y1="712.5" x2="0" y2="789.9"><stop offset="0" stop-color="#FF5252" stop-opacity="0"/><stop offset="1" stop-color="#FF5252" stop-opacity="1"/></linearGradient><clipPath id="cob"><rect x="0" y="0" width="1287" height="609.3"/></clipPath><clipPath id="cos"><rect x="0" y="712.5" width="1287" height="200"/></clipPath></defs><path d="M10.0,656.0 L13.6,660.9 L18.5,649.9 L23.3,628.9 L28.1,632.0 L33.0,659.8 L37.8,664.9 L42.6,647.4 L47.4,648.1 L52.3,653.2 L57.1,657.4 L61.9,664.6 L66.8,659.9 L71.6,663.7 L76.4,659.7 L81.2,657.6 L86.1,641.1 L90.9,637.2 L95.7,638.1 L100.6,644.8 L105.4,634.8 L110.2,650.9 L115.0,662.7 L119.9,663.0 L124.7,657.5 L129.5,654.0 L134.4,655.3 L139.2,673.1 L144.0,697.6 L148.8,693.3 L153.7,698.0 L158.5,681.9 L163.3,690.1 L168.2,692.4 L173.0,680.8 L177.8,699.7 L182.6,704.7 L187.5,702.1 L192.3,713.0 L197.1,714.7 L202.0,714.7 L206.8,718.3 L211.6,724.2 L216.4,718.2 L221.3,722.2 L226.1,726.3 L230.9,704.9 L235.8,696.3 L240.6,706.9 L245.4,702.3 L250.3,689.2 L255.1,671.1 L259.9,685.4 L264.7,665.4 L269.6,669.6 L274.4,661.8 L279.2,656.7 L284.1,665.5 L288.9,682.5 L293.7,675.8 L298.5,685.8 L303.4,690.9 L308.2,693.2 L313.0,685.5 L317.9,681.6 L322.7,695.5 L327.5,695.5 L332.3,693.2 L337.2,690.1 L342.0,705.9 L346.8,688.4 L351.7,691.1 L356.5,661.6 L361.3,655.2 L366.1,640.0 L371.0,634.2 L375.8,646.9 L380.6,643.3 L385.5,651.1 L390.3,643.3 L395.1,630.5 L399.9,631.4 L404.8,621.9 L409.6,631.4 L414.4,624.9 L419.3,616.6 L424.1,629.5 L428.9,626.3 L433.7,633.7 L438.6,640.0 L443.4,648.6 L448.2,633.2 L453.1,634.2 L457.9,619.9 L462.7,621.2 L467.5,613.9 L472.4,611.9 L477.2,632.6 L482.0,628.3 L486.9,620.0 L491.7,619.6 L496.5,600.3 L501.3,591.3 L506.2,582.6 L511.0,606.5 L515.8,606.5 L520.7,599.7 L525.5,611.5 L530.3,603.5 L535.2,599.2 L540.0,616.4 L544.8,606.5 L549.6,617.4 L554.5,616.6 L559.3,603.7 L564.1,579.8 L569.0,585.3 L573.8,578.4 L578.6,566.9 L583.4,589.1 L588.3,603.5 L593.1,617.5 L597.9,642.0 L602.8,633.4 L607.6,634.7 L612.4,626.4 L617.2,615.9 L622.1,620.0 L626.9,624.3 L631.7,638.4 L636.6,643.6 L641.4,633.3 L646.2,633.0 L651.0,612.1 L655.9,598.7 L660.7,603.5 L665.5,615.9 L670.4,607.5 L675.2,627.2 L680.0,622.0 L684.8,618.7 L689.7,635.1 L694.5,639.3 L699.3,658.7 L704.2,678.9 L709.0,671.2 L713.8,662.5 L718.6,648.5 L723.5,653.0 L728.3,656.5 L733.1,664.8 L738.0,658.7 L742.8,651.1 L747.6,638.8 L752.4,641.5 L757.3,660.9 L762.1,642.6 L766.9,640.1 L771.8,650.1 L776.6,649.1 L781.4,643.9 L786.2,656.6 L791.1,652.9 L795.9,640.2 L800.7,622.3 L805.6,611.2 L810.4,608.2 L815.2,601.1 L820.0,614.4 L824.9,612.7 L829.7,621.0 L834.5,634.1 L839.4,644.2 L844.2,643.1 L849.0,632.9 L853.9,649.3 L858.7,636.1 L863.5,655.7 L868.3,667.1 L873.2,653.0 L878.0,659.2 L882.8,656.5 L887.7,655.9 L892.5,658.4 L897.3,667.8 L902.1,678.1 L907.0,696.3 L911.8,700.1 L916.6,688.6 L921.5,682.8 L926.3,685.3 L931.1,688.1 L935.9,662.3 L940.8,660.7 L945.6,642.4 L950.4,632.3 L955.3,649.9 L960.1,639.4 L964.9,624.1 L969.7,641.3 L974.6,629.5 L979.4,640.9 L984.2,642.6 L989.1,661.6 L993.9,673.0 L998.7,661.8 L1003.5,676.4 L1008.4,649.2 L1013.2,651.7 L1018.0,645.8 L1022.9,663.5 L1027.7,636.7 L1032.5,646.7 L1037.3,653.6 L1042.2,660.1 L1047.0,661.7 L1051.8,660.3 L1056.7,666.9 L1061.5,656.6 L1066.3,651.1 L1071.1,654.7 L1076.0,643.6 L1080.8,652.8 L1085.6,645.7 L1090.5,626.8 L1095.3,616.9 L1100.1,609.3 L1104.9,603.4 L1109.8,617.9 L1114.6,624.4 L1119.4,629.7 L1124.3,627.7 L1129.1,625.6 L1133.9,610.6 L1138.8,607.5 L1143.6,628.8 L1148.4,642.6 L1153.2,663.8 L1158.1,679.9 L1162.9,691.7 L1167.7,684.4 L1167.5,609.3 L10,609.3 Z" fill="url(#gob)" clip-path="url(#cob)"/><path d="M10.0,656.0 L13.6,660.9 L18.5,649.9 L23.3,628.9 L28.1,632.0 L33.0,659.8 L37.8,664.9 L42.6,647.4 L47.4,648.1 L52.3,653.2 L57.1,657.4 L61.9,664.6 L66.8,659.9 L71.6,663.7 L76.4,659.7 L81.2,657.6 L86.1,641.1 L90.9,637.2 L95.7,638.1 L100.6,644.8 L105.4,634.8 L110.2,650.9 L115.0,662.7 L119.9,663.0 L124.7,657.5 L129.5,654.0 L134.4,655.3 L139.2,673.1 L144.0,697.6 L148.8,693.3 L153.7,698.0 L158.5,681.9 L163.3,690.1 L168.2,692.4 L173.0,680.8 L177.8,699.7 L182.6,704.7 L187.5,702.1 L192.3,713.0 L197.1,714.7 L202.0,714.7 L206.8,718.3 L211.6,724.2 L216.4,718.2 L221.3,722.2 L226.1,726.3 L230.9,704.9 L235.8,696.3 L240.6,706.9 L245.4,702.3 L250.3,689.2 L255.1,671.1 L259.9,685.4 L264.7,665.4 L269.6,669.6 L274.4,661.8 L279.2,656.7 L284.1,665.5 L288.9,682.5 L293.7,675.8 L298.5,685.8 L303.4,690.9 L308.2,693.2 L313.0,685.5 L317.9,681.6 L322.7,695.5 L327.5,695.5 L332.3,693.2 L337.2,690.1 L342.0,705.9 L346.8,688.4 L351.7,691.1 L356.5,661.6 L361.3,655.2 L366.1,640.0 L371.0,634.2 L375.8,646.9 L380.6,643.3 L385.5,651.1 L390.3,643.3 L395.1,630.5 L399.9,631.4 L404.8,621.9 L409.6,631.4 L414.4,624.9 L419.3,616.6 L424.1,629.5 L428.9,626.3 L433.7,633.7 L438.6,640.0 L443.4,648.6 L448.2,633.2 L453.1,634.2 L457.9,619.9 L462.7,621.2 L467.5,613.9 L472.4,611.9 L477.2,632.6 L482.0,628.3 L486.9,620.0 L491.7,619.6 L496.5,600.3 L501.3,591.3 L506.2,582.6 L511.0,606.5 L515.8,606.5 L520.7,599.7 L525.5,611.5 L530.3,603.5 L535.2,599.2 L540.0,616.4 L544.8,606.5 L549.6,617.4 L554.5,616.6 L559.3,603.7 L564.1,579.8 L569.0,585.3 L573.8,578.4 L578.6,566.9 L583.4,589.1 L588.3,603.5 L593.1,617.5 L597.9,642.0 L602.8,633.4 L607.6,634.7 L612.4,626.4 L617.2,615.9 L622.1,620.0 L626.9,624.3 L631.7,638.4 L636.6,643.6 L641.4,633.3 L646.2,633.0 L651.0,612.1 L655.9,598.7 L660.7,603.5 L665.5,615.9 L670.4,607.5 L675.2,627.2 L680.0,622.0 L684.8,618.7 L689.7,635.1 L694.5,639.3 L699.3,658.7 L704.2,678.9 L709.0,671.2 L713.8,662.5 L718.6,648.5 L723.5,653.0 L728.3,656.5 L733.1,664.8 L738.0,658.7 L742.8,651.1 L747.6,638.8 L752.4,641.5 L757.3,660.9 L762.1,642.6 L766.9,640.1 L771.8,650.1 L776.6,649.1 L781.4,643.9 L786.2,656.6 L791.1,652.9 L795.9,640.2 L800.7,622.3 L805.6,611.2 L810.4,608.2 L815.2,601.1 L820.0,614.4 L824.9,612.7 L829.7,621.0 L834.5,634.1 L839.4,644.2 L844.2,643.1 L849.0,632.9 L853.9,649.3 L858.7,636.1 L863.5,655.7 L868.3,667.1 L873.2,653.0 L878.0,659.2 L882.8,656.5 L887.7,655.9 L892.5,658.4 L897.3,667.8 L902.1,678.1 L907.0,696.3 L911.8,700.1 L916.6,688.6 L921.5,682.8 L926.3,685.3 L931.1,688.1 L935.9,662.3 L940.8,660.7 L945.6,642.4 L950.4,632.3 L955.3,649.9 L960.1,639.4 L964.9,624.1 L969.7,641.3 L974.6,629.5 L979.4,640.9 L984.2,642.6 L989.1,661.6 L993.9,673.0 L998.7,661.8 L1003.5,676.4 L1008.4,649.2 L1013.2,651.7 L1018.0,645.8 L1022.9,663.5 L1027.7,636.7 L1032.5,646.7 L1037.3,653.6 L1042.2,660.1 L1047.0,661.7 L1051.8,660.3 L1056.7,666.9 L1061.5,656.6 L1066.3,651.1 L1071.1,654.7 L1076.0,643.6 L1080.8,652.8 L1085.6,645.7 L1090.5,626.8 L1095.3,616.9 L1100.1,609.3 L1104.9,603.4 L1109.8,617.9 L1114.6,624.4 L1119.4,629.7 L1124.3,627.7 L1129.1,625.6 L1133.9,610.6 L1138.8,607.5 L1143.6,628.8 L1148.4,642.6 L1153.2,663.8 L1158.1,679.9 L1162.9,691.7 L1167.7,684.4 L1167.5,712.5 L10,712.5 Z" fill="url(#gos)" clip-path="url(#cos)"/><path d="M10.0,656.0 L13.6,660.9 L18.5,649.9 L23.3,628.9 L28.1,632.0 L33.0,659.8 L37.8,664.9 L42.6,647.4 L47.4,648.1 L52.3,653.2 L57.1,657.4 L61.9,664.6 L66.8,659.9 L71.6,663.7 L76.4,659.7 L81.2,657.6 L86.1,641.1 L90.9,637.2 L95.7,638.1 L100.6,644.8 L105.4,634.8 L110.2,650.9 L115.0,662.7 L119.9,663.0 L124.7,657.5 L129.5,654.0 L134.4,655.3 L139.2,673.1 L144.0,697.6 L148.8,693.3 L153.7,698.0 L158.5,681.9 L163.3,690.1 L168.2,692.4 L173.0,680.8 L177.8,699.7 L182.6,704.7 L187.5,702.1 L192.3,713.0 L197.1,714.7 L202.0,714.7 L206.8,718.3 L211.6,724.2 L216.4,718.2 L221.3,722.2 L226.1,726.3 L230.9,704.9 L235.8,696.3 L240.6,706.9 L245.4,702.3 L250.3,689.2 L255.1,671.1 L259.9,685.4 L264.7,665.4 L269.6,669.6 L274.4,661.8 L279.2,656.7 L284.1,665.5 L288.9,682.5 L293.7,675.8 L298.5,685.8 L303.4,690.9 L308.2,693.2 L313.0,685.5 L317.9,681.6 L322.7,695.5 L327.5,695.5 L332.3,693.2 L337.2,690.1 L342.0,705.9 L346.8,688.4 L351.7,691.1 L356.5,661.6 L361.3,655.2 L366.1,640.0 L371.0,634.2 L375.8,646.9 L380.6,643.3 L385.5,651.1 L390.3,643.3 L395.1,630.5 L399.9,631.4 L404.8,621.9 L409.6,631.4 L414.4,624.9 L419.3,616.6 L424.1,629.5 L428.9,626.3 L433.7,633.7 L438.6,640.0 L443.4,648.6 L448.2,633.2 L453.1,634.2 L457.9,619.9 L462.7,621.2 L467.5,613.9 L472.4,611.9 L477.2,632.6 L482.0,628.3 L486.9,620.0 L491.7,619.6 L496.5,600.3 L501.3,591.3 L506.2,582.6 L511.0,606.5 L515.8,606.5 L520.7,599.7 L525.5,611.5 L530.3,603.5 L535.2,599.2 L540.0,616.4 L544.8,606.5 L549.6,617.4 L554.5,616.6 L559.3,603.7 L564.1,579.8 L569.0,585.3 L573.8,578.4 L578.6,566.9 L583.4,589.1 L588.3,603.5 L593.1,617.5 L597.9,642.0 L602.8,633.4 L607.6,634.7 L612.4,626.4 L617.2,615.9 L622.1,620.0 L626.9,624.3 L631.7,638.4 L636.6,643.6 L641.4,633.3 L646.2,633.0 L651.0,612.1 L655.9,598.7 L660.7,603.5 L665.5,615.9 L670.4,607.5 L675.2,627.2 L680.0,622.0 L684.8,618.7 L689.7,635.1 L694.5,639.3 L699.3,658.7 L704.2,678.9 L709.0,671.2 L713.8,662.5 L718.6,648.5 L723.5,653.0 L728.3,656.5 L733.1,664.8 L738.0,658.7 L742.8,651.1 L747.6,638.8 L752.4,641.5 L757.3,660.9 L762.1,642.6 L766.9,640.1 L771.8,650.1 L776.6,649.1 L781.4,643.9 L786.2,656.6 L791.1,652.9 L795.9,640.2 L800.7,622.3 L805.6,611.2 L810.4,608.2 L815.2,601.1 L820.0,614.4 L824.9,612.7 L829.7,621.0 L834.5,634.1 L839.4,644.2 L844.2,643.1 L849.0,632.9 L853.9,649.3 L858.7,636.1 L863.5,655.7 L868.3,667.1 L873.2,653.0 L878.0,659.2 L882.8,656.5 L887.7,655.9 L892.5,658.4 L897.3,667.8 L902.1,678.1 L907.0,696.3 L911.8,700.1 L916.6,688.6 L921.5,682.8 L926.3,685.3 L931.1,688.1 L935.9,662.3 L940.8,660.7 L945.6,642.4 L950.4,632.3 L955.3,649.9 L960.1,639.4 L964.9,624.1 L969.7,641.3 L974.6,629.5 L979.4,640.9 L984.2,642.6 L989.1,661.6 L993.9,673.0 L998.7,661.8 L1003.5,676.4 L1008.4,649.2 L1013.2,651.7 L1018.0,645.8 L1022.9,663.5 L1027.7,636.7 L1032.5,646.7 L1037.3,653.6 L1042.2,660.1 L1047.0,661.7 L1051.8,660.3 L1056.7,666.9 L1061.5,656.6 L1066.3,651.1 L1071.1,654.7 L1076.0,643.6 L1080.8,652.8 L1085.6,645.7 L1090.5,626.8 L1095.3,616.9 L1100.1,609.3 L1104.9,603.4 L1109.8,617.9 L1114.6,624.4 L1119.4,629.7 L1124.3,627.7 L1129.1,625.6 L1133.9,610.6 L1138.8,607.5 L1143.6,628.8 L1148.4,642.6 L1153.2,663.8 L1158.1,679.9 L1162.9,691.7 L1167.7,684.4" fill="none" stroke="#7E57C2" stroke-width="3" stroke-linejoin="round" clip-path="url(#cp2)"/><path d="M13.6,657.5 L18.5,656.6 L23.3,654.6 L28.1,652.4 L33.0,652.1 L37.8,652.4 L42.6,651.4 L47.4,650.5 L52.3,650.4 L57.1,650.9 L61.9,651.8 L66.8,652.3 L71.6,653.1 L76.4,653.6 L81.2,653.4 L86.1,652.7 L90.9,653.3 L95.7,653.8 L100.6,652.7 L105.4,650.5 L110.2,650.8 L115.0,651.8 L119.9,652.5 L124.7,652.5 L129.5,651.8 L134.4,651.4 L139.2,652.1 L144.0,654.8 L148.8,657.4 L153.7,661.4 L158.5,664.6 L163.3,668.3 L168.2,671.7 L173.0,675.0 L177.8,678.5 L182.6,681.5 L187.5,684.3 L192.3,688.3 L197.1,692.6 L202.0,696.9 L206.8,700.1 L211.6,702.0 L216.4,703.8 L221.3,705.5 L226.1,708.7 L230.9,709.7 L235.8,710.0 L240.6,711.9 L245.4,712.1 L250.3,711.0 L255.1,708.7 L259.9,706.8 L264.7,703.3 L269.6,700.0 L274.4,696.0 L279.2,691.2 L284.1,687.4 L288.9,684.6 L293.7,681.0 L298.5,679.6 L303.4,679.2 L308.2,678.2 L313.0,677.0 L317.9,676.5 L322.7,678.2 L327.5,679.0 L332.3,680.9 L337.2,682.4 L342.0,685.5 L346.8,687.8 L351.7,689.6 L356.5,688.1 L361.3,686.7 L366.1,683.4 L371.0,679.3 L375.8,676.0 L380.6,673.0 L385.5,670.9 L390.3,667.1 L395.1,662.5 L399.9,658.1 L404.8,653.2 L409.6,647.9 L414.4,643.3 L419.3,638.0 L424.1,635.7 L428.9,633.7 L433.7,633.2 L438.6,633.6 L443.4,633.8 L448.2,633.0 L453.1,631.8 L457.9,630.2 L462.7,629.5 L467.5,628.2 L472.4,627.5 L477.2,627.6 L482.0,627.8 L486.9,628.1 L491.7,627.4 L496.5,625.5 L501.3,622.5 L506.2,618.4 L511.0,615.4 L515.8,613.5 L520.7,611.0 L525.5,610.4 L530.3,609.2 L535.2,608.1 L540.0,608.4 L544.8,606.6 L549.6,605.8 L554.5,605.5 L559.3,604.4 L564.1,603.0 L569.0,602.5 L573.8,602.2 L578.6,599.4 L583.4,598.1 L588.3,598.4 L593.1,598.8 L597.9,601.6 L602.8,604.0 L607.6,605.3 L612.4,606.8 L617.2,606.7 L622.1,606.9 L626.9,608.4 L631.7,612.5 L636.6,616.7 L641.4,620.6 L646.2,625.4 L651.0,627.0 L655.9,626.6 L660.7,625.7 L665.5,623.8 L670.4,621.9 L675.2,621.4 L680.0,621.1 L684.8,621.3 L689.7,622.4 L694.5,623.5 L699.3,624.9 L704.2,627.4 L709.0,630.1 L713.8,632.2 L718.6,634.8 L723.5,638.7 L728.3,642.5 L733.1,646.0 L738.0,649.6 L742.8,651.4 L747.6,652.6 L752.4,654.2 L757.3,656.0 L762.1,656.3 L766.9,654.9 L771.8,652.9 L776.6,651.3 L781.4,650.0 L786.2,650.6 L791.1,650.5 L795.9,649.4 L800.7,646.3 L805.6,643.0 L810.4,639.9 L815.2,637.2 L820.0,635.3 L824.9,631.8 L829.7,630.3 L834.5,629.9 L839.4,629.4 L844.2,629.0 L849.0,628.2 L853.9,627.7 L858.7,626.5 L863.5,627.6 L868.3,630.8 L873.2,633.8 L878.0,637.4 L882.8,641.4 L887.7,644.3 L892.5,647.6 L897.3,651.0 L902.1,654.1 L907.0,657.8 L911.8,661.9 L916.6,665.9 L921.5,668.2 L926.3,671.8 L931.1,674.1 L935.9,673.7 L940.8,674.3 L945.6,673.1 L950.4,671.4 L955.3,670.9 L960.1,669.6 L964.9,666.5 L969.7,663.8 L974.6,659.1 L979.4,654.8 L984.2,651.5 L989.1,650.0 L993.9,649.2 L998.7,647.3 L1003.5,648.3 L1008.4,647.5 L1013.2,648.1 L1018.0,649.1 L1022.9,650.1 L1027.7,649.9 L1032.5,651.5 L1037.3,652.4 L1042.2,654.5 L1047.0,656.0 L1051.8,657.3 L1056.7,657.7 L1061.5,656.5 L1066.3,655.7 L1071.1,654.2 L1076.0,653.8 L1080.8,653.8 L1085.6,653.8 L1090.5,651.2 L1095.3,649.8 L1100.1,647.1 L1104.9,643.6 L1109.8,640.6 L1114.6,637.9 L1119.4,635.7 L1124.3,632.9 L1129.1,630.7 L1133.9,627.8 L1138.8,624.4 L1143.6,623.4 L1148.4,622.6 L1153.2,623.9 L1158.1,627.7 L1162.9,633.1 L1167.7,638.4" fill="none" stroke="#FDD835" stroke-width="1.2"/><rect x="11" y="559" width="1344" height="1" fill="#E0E0E3"/><rect x="11" y="738" width="1344" height="1" fill="#E0E0E3"/><rect x="1287" y="28" width="1" height="738" fill="#E0E0E3"/><rect x="10" y="27" width="1345" height="739" fill="none" stroke="#EFEFEF" stroke-width="2"/><text x="10.1" y="19.0" font-family='"Liberation Sans", sans-serif' font-size="12" fill="#131722" text-anchor="start" font-weight="normal" textLength="360.5" lengthAdjust="spacingAndGlyphs">ranadagger created with TradingView.com, Sep 24, 2025 15:42 UTC</text><text x="18.0" y="45.8" font-family='"Liberation Sans", sans-serif' font-size="12" fill="#131722" text-anchor="start" font-weight="normal" textLength="182.5" lengthAdjust="spacingAndGlyphs">Hyperliquid / Tether · 1D · KuCoin</text><text x="209.1" y="45.8" font-family='"Liberation Sans", sans-serif' font-size="12" fill="#131722" text-anchor="start" font-weight="normal" textLength="7.2" lengthAdjust="spacingAndGlyphs">O</text><text x="217.0" y="45.8" font-family='"Liberation Sans", sans-serif' font-size="12" fill="#22AB94" text-anchor="start" font-weight="normal" textLength="35.6" lengthAdjust="spacingAndGlyphs">44.613</text><text x="260.3" y="45.8" font-family='"Liberation Sans", sans-serif' font-size="12" fill="#131722" text-anchor="start" font-weight="normal" textLength="7.2" lengthAdjust="spacingAndGlyphs">H</text><text x="268.2" y="45.8" font-family='"Liberation Sans", sans-serif' font-size="12" fill="#22AB94" text-anchor="start" font-weight="normal" textLength="35.2" lengthAdjust="spacingAndGlyphs">46.785</text><text x="311.3" y="45.8" font-family='"Liberation Sans", sans-serif' font-size="12" fill="#131722" text-anchor="start" font-weight="normal" textLength="5.4" lengthAdjust="spacingAndGlyphs">L</text><text x="317.4" y="45.8" font-family='"Liberation Sans", sans-serif' font-size="12" fill="#22AB94" text-anchor="start" font-weight="normal" textLength="35.4" lengthAdjust="spacingAndGlyphs">43.210</text><text x="360.4" y="45.8" font-family='"Liberation Sans", sans-serif' font-size="12" fill="#131722" text-anchor="start" font-weight="normal" textLength="6.8" lengthAdjust="spacingAndGlyphs">C</text><text x="367.7" y="45.8" font-family='"Liberation Sans", sans-serif' font-size="12" fill="#22AB94" text-anchor="start" font-weight="normal" textLength="35.0" lengthAdjust="spacingAndGlyphs">45.706</text><text x="411.0" y="45.8" font-family='"Liberation Sans", sans-serif' font-size="12" fill="#22AB94" text-anchor="start" font-weight="normal" textLength="84.2" lengthAdjust="spacingAndGlyphs">+1.095 (+2.45%)</text><text x="18.0" y="62.8" font-family='"Liberation Sans", sans-serif' font-size="12" fill="#131722" text-anchor="start" font-weight="normal" textLength="81.7" lengthAdjust="spacingAndGlyphs">EMA (20, close)</text><text x="107.4" y="62.8" font-family='"Liberation Sans", sans-serif' font-size="12" fill="#2962FF" text-anchor="start" font-weight="normal" textLength="36.3" lengthAdjust="spacingAndGlyphs">50.678</text><text x="18.0" y="80.0" font-family='"Liberation Sans", sans-serif' font-size="12" fill="#131722" text-anchor="start" font-weight="normal" textLength="81.0" lengthAdjust="spacingAndGlyphs">SMA (50, close)</text><text x="107.0" y="80.0" font-family='"Liberation Sans", sans-serif' font-size="12" fill="#F23645" text-anchor="start" font-weight="normal" textLength="35.6" lengthAdjust="spacingAndGlyphs">47.480</text><text x="18.2" y="579.0" font-family='"Liberation Sans", sans-serif' font-size="12" fill="#131722" text-anchor="start" font-weight="normal" textLength="75.6" lengthAdjust="spacingAndGlyphs">RSI (14, close)</text><text x="102.0" y="579.0" font-family='"Liberation Sans", sans-serif' font-size="12" fill="#7E57C2" text-anchor="start" font-weight="normal" textLength="29.0" lengthAdjust="spacingAndGlyphs">40.88</text><text x="138.3" y="579.0" font-family='"Liberation Sans", sans-serif' font-size="12" fill="#FDD835" text-anchor="start" font-weight="normal" textLength="28.7" lengthAdjust="spacingAndGlyphs">58.31</text><text x="1296.5" y="91.0" font-family='"Liberation Sans", sans-serif' font-size="12" fill="#131722" text-anchor="start" font-weight="normal" textLength="35.1" lengthAdjust="spacingAndGlyphs">56.000</text><text x="1296.5" y="129.0" font-family='"Liberation Sans", sans-serif' font-size="12" fill="#131722" text-anchor="start" font-weight="normal" textLength="35.1" lengthAdjust="spacingAndGlyphs">52.000</text><text x="1296.5" y="167.0" font-family='"Liberation Sans", sans-serif' font-size="12" fill="#131722" text-anchor="start" font-weight="normal" textLength="35.1" lengthAdjust="spacingAndGlyphs">48.000</text><text x="1296.5" y="206.0" font-family='"Liberation Sans", sans-serif' font-size="12" fill="#131722" text-anchor="start" font-weight="normal" textLength="35.1" lengthAdjust="spacingAndGlyphs">44.000</text><text x="1296.5" y="244.0" font-family='"Liberation Sans", sans-serif' font-size="12" fill="#131722" text-anchor="start" font-weight="normal" textLength="35.1" lengthAdjust="spacingAndGlyphs">40.000</text><text x="1296.5" y="282.0" font-family='"Liberation Sans", sans-serif' font-size="12" fill="#131722" text-anchor="start" font-weight="normal" textLength="35.1" lengthAdjust="spacingAndGlyphs">36.000</text><text x="1296.5" y="320.0" font-family='"Liberation Sans", sans-serif' font-size="12" fill="#131722" text-anchor="start" font-weight="normal" textLength="35.1" lengthAdjust="spacingAndGlyphs">32.000</text><text x="1296.5" y="358.0" font-family='"Liberation Sans", sans-serif' font-size="12" fill="#131722" text-anchor="start" font-weight="normal" textLength="35.1" lengthAdjust="spacingAndGlyphs">28.000</text><text x="1296.5" y="396.0" font-family='"Liberation Sans", sans-serif' font-size="12" fill="#131722" text-anchor="start" font-weight="normal" textLength="35.1" lengthAdjust="spacingAndGlyphs">24.000</text><text x="1296.5" y="434.0" font-family='"Liberation Sans", sans-serif' font-size="12" fill="#131722" text-anchor="start" font-weight="normal" textLength="35.1" lengthAdjust="spacingAndGlyphs">20.000</text><text x="1296.5" y="473.0" font-family='"Liberation Sans", sans-serif' font-size="12" fill="#131722" text-anchor="start" font-weight="normal" textLength="35.1" lengthAdjust="spacingAndGlyphs">16.000</text><text x="1296.5" y="511.0" font-family='"Liberation Sans", sans-serif' font-size="12" fill="#131722" text-anchor="start" font-weight="normal" textLength="35.1" lengthAdjust="spacingAndGlyphs">12.000</text><text x="1296.5" y="549.0" font-family='"Liberation Sans", sans-serif' font-size="12" fill="#131722" text-anchor="start" font-weight="normal" textLength="29.2" lengthAdjust="spacingAndGlyphs">8.000</text><text x="1296.0" y="588.0" font-family='"Liberation Sans", sans-serif' font-size="12" fill="#131722" text-anchor="start" font-weight="normal" textLength="29.4" lengthAdjust="spacingAndGlyphs">80.00</text><text x="1296.0" y="640.0" font-family='"Liberation Sans", sans-serif' font-size="12" fill="#131722" text-anchor="start" font-weight="normal" textLength="29.4" lengthAdjust="spacingAndGlyphs">60.00</text><text x="1296.0" y="691.0" font-family='"Liberation Sans", sans-serif' font-size="12" fill="#131722" text-anchor="start" font-weight="normal" textLength="29.4" lengthAdjust="spacingAndGlyphs">40.00</text><text x="22.3" y="755.9" font-family='"Liberation Sans", sans-serif' font-size="12" fill="#131722" text-anchor="start" font-weight="normal" textLength="20.2" lengthAdjust="spacingAndGlyphs" stroke="#131722" stroke-width="0.25">Feb</text><text x="157.6" y="755.9" font-family='"Liberation Sans", sans-serif' font-size="12" fill="#131722" text-anchor="start" font-weight="normal" textLength="20.2" lengthAdjust="spacingAndGlyphs" stroke="#131722" stroke-width="0.25">Mar</text><text x="307.8" y="755.9" font-family='"Liberation Sans", sans-serif' font-size="12" fill="#131722" text-anchor="start" font-weight="normal" textLength="19.5" lengthAdjust="spacingAndGlyphs" stroke="#131722" stroke-width="0.25">Apr</text><text x="451.4" y="755.9" font-family='"Liberation Sans", sans-serif' font-size="12" fill="#131722" text-anchor="start" font-weight="normal" textLength="21.6" lengthAdjust="spacingAndGlyphs" stroke="#131722" stroke-width="0.25">May</text><text x="601.2" y="755.9" font-family='"Liberation Sans", sans-serif' font-size="12" fill="#131722" text-anchor="start" font-weight="normal" textLength="20.6" lengthAdjust="spacingAndGlyphs" stroke="#131722" stroke-width="0.25">Jun</text><text x="748.0" y="755.9" font-family='"Liberation Sans", sans-serif' font-size="12" fill="#131722" text-anchor="start" font-weight="normal" textLength="17.2" lengthAdjust="spacingAndGlyphs" stroke="#131722" stroke-width="0.25">Jul</text><text x="896.0" y="755.9" font-family='"Liberation Sans", sans-serif' font-size="12" fill="#131722" text-anchor="start" font-weight="normal" textLength="20.9" lengthAdjust="spacingAndGlyphs" stroke="#131722" stroke-width="0.25">Aug</text><text x="1046.4" y="755.9" font-family='"Liberation Sans", sans-serif' font-size="12" fill="#131722" text-anchor="start" font-weight="normal" textLength="19.8" lengthAdjust="spacingAndGlyphs" stroke="#131722" stroke-width="0.25">Sep</text><text x="1191.7" y="755.9" font-family='"Liberation Sans", sans-serif' font-size="12" fill="#131722" text-anchor="start" font-weight="normal" textLength="18.8" lengthAdjust="spacingAndGlyphs" stroke="#131722" stroke-width="0.25">Oct</text><rect x="1291" y="31" width="60" height="26.5" rx="4" fill="#fff" stroke="#E0E3EB" stroke-width="1"/><text x="1300.0" y="49.2" font-family='"Liberation Sans", sans-serif' font-size="12" fill="#131722" text-anchor="start" font-weight="normal" textLength="28.2" lengthAdjust="spacingAndGlyphs">USDT</text><path d="M1287,119 L1258,119 Q1256,119 1256,121 L1256,134 Q1256,136 1258,136 L1287,136 Z" fill="#2962FF"/><path d="M1288,119 L1335,119 Q1337,119 1337,121 L1337,136 Q1337,136 1337,136 L1288,136 Z" fill="#2962FF"/><text x="1261.0" y="131.7" font-family='"Liberation Sans", sans-serif' font-size="12" fill="#FFFFFF" text-anchor="start" font-weight="normal" textLength="22.3" lengthAdjust="spacingAndGlyphs" stroke="#fff" stroke-width="0.35" stroke-opacity="0.9">EMA</text><text x="1296.2" y="131.7" font-family='"Liberation Sans", sans-serif' font-size="12" fill="#FFFFFF" text-anchor="start" font-weight="normal" textLength="35.3" lengthAdjust="spacingAndGlyphs" stroke="#fff" stroke-width="0.35" stroke-opacity="0.9">50.678</text><path d="M1288,136 L1337,136 Q1337,136 1337,136 L1337,150.7 Q1337,152.7 1335,152.7 L1288,152.7 Z" fill="#0000FF"/><text x="1296.0" y="148.7" font-family='"Liberation Sans", sans-serif' font-size="12" fill="#FFFFFF" text-anchor="start" font-weight="normal" textLength="35.5" lengthAdjust="spacingAndGlyphs" stroke="#fff" stroke-width="0.35" stroke-opacity="0.9">49.880</text><path d="M1287,159.2 L1239,159.2 Q1237,159.2 1237,161.2 L1237,173.8 Q1237,175.8 1239,175.8 L1287,175.8 Z" fill="#F23645"/><path d="M1288,159.2 L1335,159.2 Q1337,159.2 1337,161.2 L1337,173.8 Q1337,175.8 1335,175.8 L1288,175.8 Z" fill="#F23645"/><text x="1241.8" y="171.8" font-family='"Liberation Sans", sans-serif' font-size="12" fill="#FFFFFF" text-anchor="start" font-weight="normal" textLength="41.5" lengthAdjust="spacingAndGlyphs" stroke="#fff" stroke-width="0.35" stroke-opacity="0.9">SMA:MA</text><text x="1296.0" y="171.8" font-family='"Liberation Sans", sans-serif' font-size="12" fill="#FFFFFF" text-anchor="start" font-weight="normal" textLength="35.8" lengthAdjust="spacingAndGlyphs" stroke="#fff" stroke-width="0.35" stroke-opacity="0.9">47.480</text><path d="M1287,176.3 L1225.2,176.3 Q1223.2,176.3 1223.2,178.3 L1223.2,190.8 Q1223.2,192.8 1225.2,192.8 L1287,192.8 Z" fill="#26A69A"/><path d="M1288,176.3 L1348,176.3 Q1348,176.3 1348,176.3 L1348,218.5 Q1348,220.5 1346,220.5 L1288,220.5 Z" fill="#26A69A"/><text x="1227.7" y="188.6" font-family='"Liberation Sans", sans-serif' font-size="12" fill="#FFFFFF" text-anchor="start" font-weight="normal" textLength="55.1" lengthAdjust="spacingAndGlyphs" stroke="#fff" stroke-width="0.35" stroke-opacity="0.9">HYPEUSDT</text><text x="1296.0" y="188.6" font-family='"Liberation Sans", sans-serif' font-size="12" fill="#FFFFFF" text-anchor="start" font-weight="normal" textLength="35.8" lengthAdjust="spacingAndGlyphs" stroke="#fff" stroke-width="0.35" stroke-opacity="0.9">45.706</text><text x="1296.2" y="203.0" font-family='"Liberation Sans", sans-serif' font-size="12" fill="#FFFFFF" text-anchor="start" font-weight="normal" textLength="42.5" lengthAdjust="spacingAndGlyphs" stroke="#fff" stroke-width="0.35" stroke-opacity="0.9">+95.64%</text><text x="1296.0" y="216.5" font-family='"Liberation Sans", sans-serif' font-size="12" fill="rgba(255,255,255,0.8)" text-anchor="start" font-weight="normal" textLength="46.2" lengthAdjust="spacingAndGlyphs" stroke="#fff" stroke-width="0.3" stroke-opacity="0.6">08:17:43</text><path d="M1287,631.1 L1210.2,631.1 Q1208.2,631.1 1208.2,633.1 L1208.2,645.7 Q1208.2,647.7 1210.2,647.7 L1287,647.7 Z" fill="#FDD835"/><path d="M1288,631.1 L1328.8,631.1 Q1330.8,631.1 1330.8,633.1 L1330.8,645.7 Q1330.8,647.7 1328.8,647.7 L1288,647.7 Z" fill="#FDD835"/><text x="1212.8" y="643.8" font-family='"Liberation Sans", sans-serif' font-size="12" fill="#131722" text-anchor="start" font-weight="normal" textLength="70.1" lengthAdjust="spacingAndGlyphs">RSI-based MA</text><text x="1296.4" y="643.8" font-family='"Liberation Sans", sans-serif' font-size="12" fill="#131722" text-anchor="start" font-weight="normal" textLength="28.5" lengthAdjust="spacingAndGlyphs">58.31</text><path d="M1287,676.2 L1264,676.2 Q1262,676.2 1262,678.2 L1262,690.8 Q1262,692.8 1264,692.8 L1287,692.8 Z" fill="#7E57C2"/><path d="M1288,676.2 L1328.8,676.2 Q1330.8,676.2 1330.8,678.2 L1330.8,690.8 Q1330.8,692.8 1328.8,692.8 L1288,692.8 Z" fill="#7E57C2"/><text x="1267.2" y="688.7" font-family='"Liberation Sans", sans-serif' font-size="12" fill="#FFFFFF" text-anchor="start" font-weight="normal" textLength="15.4" lengthAdjust="spacingAndGlyphs" stroke="#fff" stroke-width="0.35" stroke-opacity="0.9">RSI</text><text x="1295.9" y="688.7" font-family='"Liberation Sans", sans-serif' font-size="12" fill="#FFFFFF" text-anchor="start" font-weight="normal" textLength="29.4" lengthAdjust="spacingAndGlyphs" stroke="#fff" stroke-width="0.35" stroke-opacity="0.9">40.88</text><path d="M977.1,261 L995.7,266.7 L1068.6,266.7 Q1076.4,266.7 1076.4,274.5 L1076.4,291.5 Q1076.4,299.3 1068.6,299.3 L995.4,299.3 Q987.6,299.3 987.6,291.5 L987.6,274.3 Z" fill="#fff" stroke="#A01C22" stroke-width="1.3" stroke-linejoin="round"/><text x="998.6" y="286.0" font-family='"Liberation Sans", sans-serif' font-size="12" fill="#A01C22" text-anchor="start" font-weight="normal" textLength="66.9" lengthAdjust="spacingAndGlyphs">Uptrend line</text><path d="M1088.5,601.5 L1044.4,597.4 L1044.4,598.1 Q1044.4,605.6 1036.9,605.6 L930.2,605.6 Q922.7,605.6 922.7,598.1 L922.7,580.7 Q922.7,573.2 930.2,573.2 L1036.9,573.2 Q1044.4,573.2 1044.4,580.7 L1044.4,581.4 Z" fill="#fff" stroke="#A01C22" stroke-width="1.3" stroke-linejoin="round"/><text x="933.0" y="592.7" font-family='"Liberation Sans", sans-serif' font-size="12" fill="#A01C22" text-anchor="start" font-weight="normal" textLength="101.1" lengthAdjust="spacingAndGlyphs">Bearish divergence</text><g fill="none" stroke="#9C27B0" stroke-width="1.6"><path d="M1170.8,537.5 A9.3,9.3 0 1 0 1176.4,543.6"/></g><circle cx="1174.4" cy="539.5" r="2.6" fill="#F23645"/><path d="M1170.1,541.0 L1163.0,546.9 L1167.4,546.9 L1164.1,551.9 L1171.7,545.7 L1167.2,545.7 Z" fill="#9C27B0" stroke="#9C27B0" stroke-width="0.7" stroke-linejoin="round"/><path d="M12,788.1 L23.9,788.1 L23.9,802.8 L18,802.8 L18,793.7 L12,793.7 Z" fill="#131722"/><circle cx="29.2" cy="791" r="2.8" fill="#131722"/><path d="M33.5,788.1 L41.6,788.1 L36.9,802.8 L29.2,802.8 Z" fill="#131722"/><text x="49.3" y="802.8" font-family='"Liberation Sans", sans-serif' font-size="20" fill="#131722" text-anchor="start" font-weight="bold" textLength="120.6" lengthAdjust="spacingAndGlyphs">TradingView</text></svg>
</body></html>
